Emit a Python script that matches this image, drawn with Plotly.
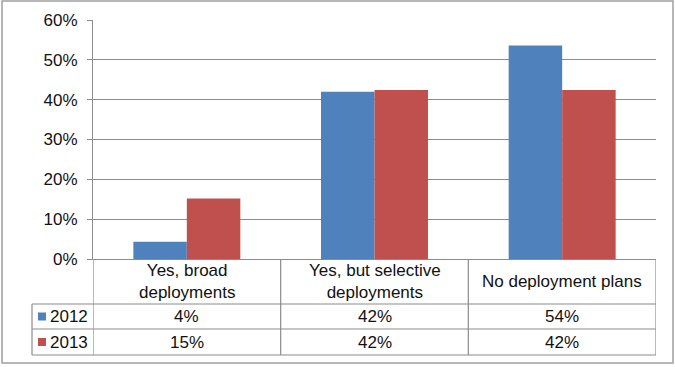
import plotly.graph_objects as go

categories = ["Yes, broad deployments", "Yes, but selective deployments", "No deployment plans"]
category_labels = ["Yes, broad<br>deployments", "Yes, but selective<br>deployments", "No deployment plans"]
series_names = ["2012", "2013"]
values_2012 = [0.043, 0.420, 0.536]
values_2013 = [0.152, 0.424, 0.424]
table_2012 = ["4%", "42%", "54%"]
table_2013 = ["15%", "42%", "42%"]
colors = ["#4F81BD", "#C0504D"]

W, H = 675, 367
def px(x):
    return x / W
def py(y):
    return 1 - y / H

FONT = "Liberation Sans, Arial, sans-serif"
TXT = "#111111"
GRID = "#8c8c8c"
FS = 17

fig = go.Figure()
fig.add_trace(go.Bar(x=categories, y=values_2012, name=series_names[0], marker=dict(color=colors[0], line=dict(width=0))))
fig.add_trace(go.Bar(x=categories, y=values_2013, name=series_names[1], marker=dict(color=colors[1], line=dict(width=0))))

shapes = []
# outer border
shapes.append(dict(type="rect", xref="paper", yref="paper", x0=px(2), x1=px(673), y0=py(363), y1=py(1),
                   line=dict(color="#a0a0a0", width=1.5)))
# table horizontal lines
for yy in [304, 329, 355]:
    shapes.append(dict(type="line", xref="paper", yref="paper", x0=px(32), x1=px(656), y0=py(yy), y1=py(yy),
                       line=dict(color=GRID, width=1.2)))
# left edge of legend column
shapes.append(dict(type="line", xref="paper", yref="paper", x0=px(32), x1=px(32), y0=py(304), y1=py(355),
                   line=dict(color=GRID, width=1.2)))
# vertical lines at category boundaries
for xb in [-0.5, 0.5, 1.5, 2.5]:
    shapes.append(dict(type="line", xref="x", yref="paper", x0=xb, x1=xb, y0=py(259), y1=py(355),
                       line=dict(color=GRID, width=1.2)))
# legend squares
for i, yc in enumerate([316.5, 342]):
    shapes.append(dict(type="rect", xref="paper", yref="paper", x0=px(38), x1=px(46), y0=py(yc + 4), y1=py(yc - 4),
                       fillcolor=colors[i], line=dict(width=0)))

annotations = []
for cat, lab in zip(categories, category_labels):
    annotations.append(dict(x=cat, xref="x", y=py(281.5), yref="paper", text=lab, showarrow=False,
                            xanchor="center", yanchor="middle", font=dict(family=FONT, size=FS, color=TXT)))
for row_vals, yc in [(table_2012, 316.5), (table_2013, 342)]:
    for cat, t in zip(categories, row_vals):
        annotations.append(dict(x=cat, xref="x", y=py(yc), yref="paper", text=t, showarrow=False,
                                xanchor="center", yanchor="middle", font=dict(family=FONT, size=FS, color=TXT)))
for name, yc in zip(series_names, [316.5, 342]):
    annotations.append(dict(x=px(48), xref="paper", y=py(yc), yref="paper", text=name, showarrow=False,
                            xanchor="left", yanchor="middle", font=dict(family=FONT, size=FS, color=TXT)))

fig.update_layout(
    width=W, height=H,
    margin=dict(l=0, r=0, t=0, b=0, autoexpand=False),
    paper_bgcolor="white", plot_bgcolor="white",
    barmode="group", bargap=0.43, bargroupgap=0.0,
    showlegend=False,
    shapes=shapes, annotations=annotations,
    font=dict(family=FONT, size=FS, color=TXT),
    xaxis=dict(domain=[px(93), px(656)], range=[-0.5, 2.5], showticklabels=False, showgrid=False,
               showline=True, linecolor=GRID, linewidth=1.2, ticks="", zeroline=False, automargin=False),
    yaxis=dict(domain=[py(259), py(20)], range=[0, 0.6], dtick=0.1, tickformat=".0%",
               showgrid=True, gridcolor=GRID, gridwidth=1.2, zeroline=False, automargin=False,
               showline=True, linecolor=GRID, linewidth=1.2, ticks="outside", ticklen=5, tickcolor=GRID,
               ticklabelstandoff=6, tickfont=dict(family=FONT, size=FS, color=TXT)),
)

fig.write_html("out.html", config={"displayModeBar": False},
               post_script="document.body.style.margin='0';document.body.style.overflow='hidden';")
